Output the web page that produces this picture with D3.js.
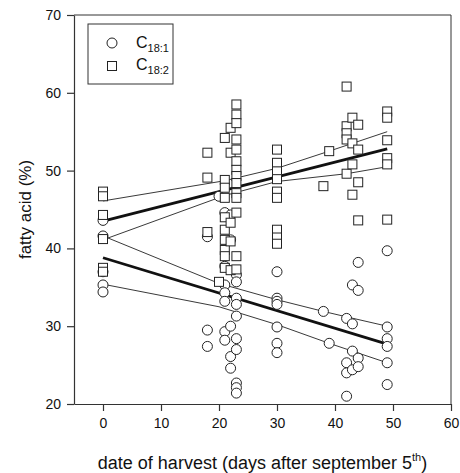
<!DOCTYPE html>
<html>
<head>
<meta charset="utf-8">
<script src="https://cdn.jsdelivr.net/npm/d3@7"></script>
<style>
  body { margin: 0; background: #fff; }
  svg text { font-family: Arial, "Liberation Sans", sans-serif; fill: #111; }
</style>
</head>
<body>
<div id="chart"></div>
<script>
// x ticks / y ticks
var xTicks = [0, 10, 20, 30, 40, 50, 60]
var yTicks = [20, 30, 40, 50, 60, 70]

// C18:1 (circles): [day, %]
var c181 = [
  [0,43.6],[0,41.6],[0,37.0],[0,35.3],[0,34.4],
  [18,41.5],[18,29.5],[18,27.4],
  [20,46.7],
  [21,44.6],[21,37.7],[21,35.3],[21,34.3],[21,33.2],[21,29.3],[21,28.2],
  [22,44.3],[22,41.1],[22,30.0],[22,26.1],[22,24.6],
  [23,36.6],[23,35.7],[23,33.6],[23,32.8],[23,31.3],[23,28.4],[23,27.0],[23,22.7],[23,22.1],[23,21.4],
  [30,37.0],[30,33.6],[30,33.2],[30,32.8],[30,29.9],[30,27.8],[30,26.6],
  [38,31.9],[39,27.8],
  [42,31.0],[42,25.3],[42,24.0],[42,21.0],
  [43,35.3],[43,30.3],[43,26.8],[43,24.4],
  [44,38.2],[44,34.6],[44,25.9],[44,24.8],
  [49,39.7],[49,29.9],[49,28.4],[49,27.4],[49,25.3],[49,22.5]
]

// C18:2 (squares): [day, %]
var c182 = [
  [0,47.3],[0,46.7],[0,44.3],[0,41.2],[0,37.5],[0,37.0],
  [18,52.3],[18,49.1],[18,42.1],
  [20,35.7],
  [21,54.2],[21,48.8],[21,47.8],[21,46.5],[21,44.0],[21,42.4],[21,41.1],[21,39.8],[21,39.0],[21,37.5],
  [22,55.5],[22,52.3],[22,43.3],[22,40.9],[22,37.2],
  [23,58.5],[23,57.2],[23,56.1],[23,54.0],[23,52.7],[23,51.2],[23,50.1],[23,49.3],[23,48.4],[23,47.1],[23,46.5],[23,44.6],[23,39.0],[23,37.3],
  [30,52.7],[30,51.0],[30,49.9],[30,48.9],[30,47.3],[30,46.5],[30,42.4],[30,41.4],[30,40.6],
  [38,48.0],[39,52.5],
  [42,60.8],[42,55.7],[42,54.8],[42,54.0],[42,49.6],
  [43,56.8],[43,53.5],[43,50.8],[43,46.9],
  [44,55.9],[44,52.7],[44,48.5],[44,43.6],
  [49,57.6],[49,56.8],[49,53.9],[49,51.6],[49,50.8],[49,43.7]
]

// regression lines and confidence bands
var c182Fit = [[0,43.5],[49,52.8]]
var c182Upper = [[0,46.1],[21,48.7],[30,50.3],[39,52.5],[49,55.0]]
var c182Lower = [[0,41.1],[21,46.8],[30,48.6],[42,49.6],[49,50.5]]
var c181Fit = [[0,38.8],[49,27.7]]
var c181Upper = [[0,41.6],[20,35.5],[30,33.4],[38,31.9],[42,31.2],[49,30.0]]
var c181Lower = [[0,35.4],[20,32.5],[30,30.2],[39,27.8],[49,25.3]]

var w = 460, h = 473
var pL = 74, pR = 451, pT = 15, pB = 404

var svg = d3.select('#chart').append('svg').attr('width', w).attr('height', h)

var x = d3.scaleLinear().domain([-5, 60]).range([pL, pR])
var y = d3.scaleLinear().domain([20, 70]).range([pB, pT])

// frame top / right
svg.append('line').attr('x1', pL).attr('x2', pR).attr('y1', pT).attr('y2', pT)
  .attr('stroke', '#333').attr('stroke-width', 1)
svg.append('line').attr('x1', pR).attr('x2', pR).attr('y1', pT).attr('y2', pB)
  .attr('stroke', '#333').attr('stroke-width', 1)

var xAxis = svg.append('g').attr('transform', 'translate(0,' + pB + ')')
  .call(d3.axisBottom(x).tickValues(xTicks).tickSize(7).tickSizeOuter(0).tickPadding(7))
var yAxis = svg.append('g').attr('transform', 'translate(' + pL + ',0)')
  .call(d3.axisLeft(y).tickValues(yTicks).tickSize(7).tickSizeOuter(0).tickPadding(6))

;[xAxis, yAxis].forEach(function(g){
  g.selectAll('path, line').attr('stroke', '#333').attr('stroke-width', 1.2)
  g.selectAll('text').attr('font-size', 14).attr('font-family', 'Arial, "Liberation Sans", sans-serif').attr('fill', '#111')
})

var line = d3.line().x(function(d){ return x(d[0]) }).y(function(d){ return y(d[1]) })

;[c182Upper, c182Lower, c181Upper, c181Lower].forEach(function(b){
  svg.append('path').attr('d', line(b)).attr('fill', 'none').attr('stroke', '#222').attr('stroke-width', 0.9)
})
;[c182Fit, c181Fit].forEach(function(b){
  svg.append('path').attr('d', line(b)).attr('fill', 'none').attr('stroke', '#111').attr('stroke-width', 2.8)
})

// markers
svg.append('g').selectAll('circle').data(c181).enter().append('circle')
  .attr('cx', function(d){ return x(d[0]) })
  .attr('cy', function(d){ return y(d[1]) })
  .attr('r', 5)
  .attr('fill', '#fff').attr('stroke', '#222').attr('stroke-width', 1)

var s = 9
svg.append('g').selectAll('rect').data(c182).enter().append('rect')
  .attr('x', function(d){ return x(d[0]) - s / 2 })
  .attr('y', function(d){ return y(d[1]) - s / 2 })
  .attr('width', s).attr('height', s)
  .attr('fill', '#fff').attr('stroke', '#222').attr('stroke-width', 1)

// legend
var lg = svg.append('g')
lg.append('rect').attr('x', 88).attr('y', 24).attr('width', 85).attr('height', 60)
  .attr('fill', '#fff').attr('stroke', '#333').attr('stroke-width', 1)
lg.append('circle').attr('cx', 112).attr('cy', 43).attr('r', 5)
  .attr('fill', '#fff').attr('stroke', '#222')
lg.append('rect').attr('x', 112 - s / 2).attr('y', 66 - s / 2).attr('width', s).attr('height', s)
  .attr('fill', '#fff').attr('stroke', '#222')
var t1 = lg.append('text').attr('x', 136).attr('y', 48).attr('font-size', 16)
t1.append('tspan').text('C')
t1.append('tspan').attr('font-size', 11).attr('dy', 4).text('18:1')
var t2 = lg.append('text').attr('x', 136).attr('y', 70).attr('font-size', 16)
t2.append('tspan').text('C')
t2.append('tspan').attr('font-size', 11).attr('dy', 4).text('18:2')

// axis titles
svg.append('text').attr('transform', 'translate(31,' + ((pT + pB) / 2) + ') rotate(-90)')
  .attr('text-anchor', 'middle').attr('font-size', 17).text('fatty acid (%)')

var xt = svg.append('text').attr('x', (pL + pR) / 2).attr('y', 469)
  .attr('text-anchor', 'middle').attr('font-size', 18)
xt.append('tspan').text('date of harvest (days after september 5')
xt.append('tspan').attr('font-size', 11).attr('dy', -8).text('th')
xt.append('tspan').attr('dy', 8).text(')')
</script>
</body>
</html>
